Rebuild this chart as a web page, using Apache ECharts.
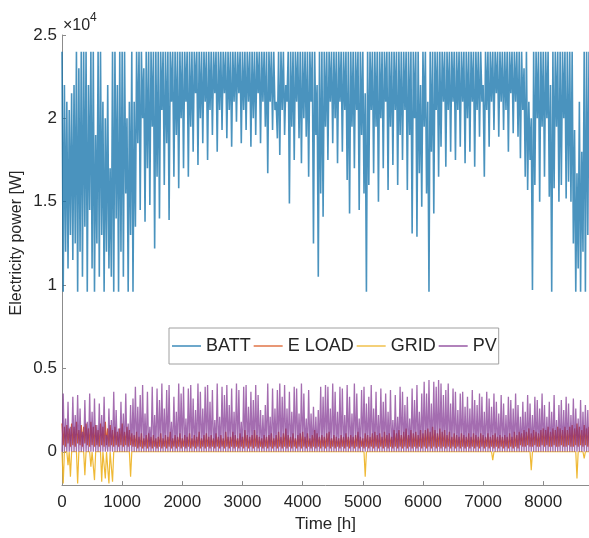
<!DOCTYPE html>
<html>
<head>
<meta charset="utf-8">
<script src="https://cdn.jsdelivr.net/npm/echarts@6/dist/echarts.min.js"></script>
<style>html,body{margin:0;padding:0;background:#fff}#c{width:589px;height:538px}</style>
</head>
<body>
<div id="c"></div>
<script>
// samples every STEP hours (0 .. 8760)
const STEP = 20;
const xTicks = [0, 1000, 2000, 3000, 4000, 5000, 6000, 7000, 8000];
const yTicks = [0, 5000, 10000, 15000, 20000, 25000];
const seriesNames = ['BATT', 'E LOAD', 'GRID', 'PV'];

const BATT = [
 24000,9600, 22000,12000, 21000,11000, 20500,13000, 21500,11500, 22000,12500, 24000,9600, 23000,12000, 24000,10500, 24000,13500,
 24000,9600, 22000,14500, 24000,11000, 24000,9600, 19000,12500, 24000,10500, 24000,13000, 21000,9600, 20000,12000, 22000,11000,
 17000,10500, 24000,9600, 24000,14000, 22000,9600, 24000,12000, 24000,10500, 24000,15500, 20000,9600, 21000,13000, 24000,9600,
 21000,13500, 24000,18500, 24000,14500, 24000,20000, 23000,13800, 24000,17000, 24000,14800, 24000,19500, 24000,12200, 24000,16500,
 24000,14000, 24000,20500, 24000,16000, 24000,18500, 24000,13900, 24000,21000, 24000,16500, 24000,19000, 24000,15800, 24000,20000,
 24000,17000, 24000,21000, 24000,16500, 24000,19500, 24000,18000, 24000,21500, 24000,17200, 24000,20000, 24000,18500, 24000,21000,
 24000,17500, 24000,20500, 24000,19000, 24000,21500, 24000,18000, 24000,20500, 24000,19300, 24000,21500, 24000,18800, 24000,20500,
 24000,18300, 24000,21000, 24000,19800, 24000,21500, 24000,18500, 24000,20500, 24000,19300, 24000,21000, 24000,18300, 24000,20000,
 24000,19000, 24000,21500, 24000,18500, 24000,21000, 24000,19500, 24000,16700, 24000,21000, 24000,19300, 24000,20500, 21000,18800,
 24000,17800, 24000,20500, 24000,19000, 22000,21000, 24000,14900, 24000,19500, 24000,17500, 24000,21000, 24000,18800, 24000,17300,
 24000,20000, 24000,18900, 24000,16500, 24000,21000, 24000,12500, 24000,19000, 22000,10500, 24000,15500, 24000,14100, 24000,19500,
 24000,17500, 24000,21000, 24000,18500, 24000,20000, 24000,17300, 24000,21000, 24000,18000, 24000,20500, 24000,16300, 24000,14300,
 24000,19500, 24000,17000, 24000,20500, 24000,14500, 24000,19000, 24000,15500, 21500,9600, 24000,16000, 24000,20500, 24000,16700,
 24000,19500, 24000,15000, 24000,20000, 24000,17000, 24000,21000, 24000,15700, 24000,19500, 24000,17200, 24000,20500, 24000,16000,
 24000,19000, 24000,17500, 24000,20500, 24000,15700, 24000,19000, 24000,13100, 24000,20000, 24000,12900, 24000,16700, 22000,14700,
 24000,19500, 24000,15500, 21000,9600, 24000,18000, 24000,14300, 24000,20500, 24000,16500, 24000,18300, 24000,21000, 24000,17100,
 24000,20500, 24000,18000, 24000,21000, 24000,17500, 24000,20500, 24000,18300, 24000,21000, 24000,17300, 24000,20000, 24000,18000,
 24000,21000, 24000,17100, 24000,20500, 24000,18900, 24000,21000, 22000,16500, 24000,20500, 24000,18300, 24000,21000, 24000,19300,
 24000,21500, 24000,18900, 24000,21000, 24000,19300, 24000,20500, 24000,18000, 24000,21500, 24000,19100, 24000,21000, 24000,18900,
 24000,17600, 24000,20500, 23000,16500, 24000,15700, 21000,17500, 20000,9700, 24000,16000, 24000,20000, 24000,15000, 24000,19500,
 24000,16500, 24000,20000, 24000,15300, 22000,9600, 24000,15800, 24000,19500, 24000,15000, 24000,16000, 24000,20000, 24000,15200,
 24000,16200, 24000,15000, 24000,12500, 19300,9600, 16700,11000, 21000,9600, 18000,12000, 24000,9600, 24000,13000, 24000
];

const ELOAD = [
 1700,400, 1500,300, 1600,500, 1400,300, 1700,400, 1500,300, 1800,500, 1300,400, 1600,300, 1500,500,
 1700,400, 1400,300, 1800,400, 1500,300, 1600,400, 1300,300, 1700,400, 1500,300, 1800,400, 1400,300,
 1600,400, 1300,300, 1500,400, 1200,300, 1400,400, 1700,300, 1200,400, 1500,300, 1300,400, 1100,300,
 1000,300, 1200,200, 900,300, 1100,200, 800,300, 1000,200, 1100,300, 900,200, 1000,300, 800,200,
 900,300, 1100,200, 800,300, 1000,200, 900,300, 1200,200, 800,300, 1000,200, 900,300, 1100,200,
 800,300, 1000,200, 900,300, 1100,200, 800,300, 1000,200, 900,300, 1200,200, 800,300, 1000,200,
 1100,300, 900,200, 1000,300, 800,200, 1100,300, 900,200, 1000,300, 800,200, 1200,300, 900,200,
 900,300, 1200,200, 1000,300, 800,200, 1100,300, 900,200, 1300,300, 1000,200, 900,300, 1000,200,
 1300,300, 1000,200, 900,300, 800,200, 1000,300, 900,200, 1000,300, 1100,200, 800,300, 1000,200,
 1200,300, 900,200, 1100,300, 1400,200, 1000,300, 900,200, 1100,300, 800,200, 1000,300, 1100,200,
 1200,300, 900,200, 1100,300, 800,200, 1000,300, 1300,200, 1100,300, 900,200, 1000,300, 900,200,
 1100,300, 1200,200, 800,300, 1000,200, 900,300, 800,200, 1000,300, 900,200, 1100,300, 900,200,
 1000,300, 900,200, 1000,300, 1200,200, 900,300, 800,200, 1100,300, 1000,200, 900,300, 1100,200,
 1200,300, 1000,200, 1100,300, 900,200, 1200,300, 1000,200, 1100,300, 900,200, 1300,300, 1100,200,
 1300,300, 1000,200, 1200,300, 1400,200, 1000,300, 1300,200, 1100,300, 1200,200, 1000,300, 1300,200,
 1100,300, 1300,200, 1400,300, 1200,200, 1500,300, 1300,200, 1100,300, 1400,200, 1200,300, 1300,200,
 1000,300, 1200,200, 900,300, 1100,200, 1000,300, 900,200, 1100,300, 1000,200, 900,300, 1100,200,
 900,300, 1100,200, 1000,300, 900,200, 1100,300, 1000,200, 900,300, 1100,200, 900,300, 1000,200,
 1100,300, 900,200, 1000,300, 900,200, 1000,300, 900,200, 1100,300, 900,200, 1200,300, 1000,200,
 1200,400, 1100,300, 1300,300, 1200,400, 1400,300, 1100,300, 1300,400, 1200,300, 1100,300, 1300,400,
 1400,300, 1300,400, 1500,300, 1200,300, 1400,400, 1300,300, 1500,300, 1400,400, 1300,300, 1500,300,
 1300,400, 1500,300, 1600,300, 1400,400, 1700,300, 1500,400, 1300,300, 1600,400, 1400,300, 1500
];

const GRID_HOURS = [
 0, 20, 40, 80, 100, 120, 140, 160, 240, 260, 280, 360, 380, 400,
 460, 480, 500, 520, 540, 560, 640, 660, 680, 700, 720, 740, 760, 780, 800, 820, 840, 860,
 1120, 1140, 1160, 5020, 5040, 5060, 7140, 7160, 7180, 7780, 7800, 7820,
 8540, 8560, 8580, 8660, 8680, 8700, 8760
];
const GRID_VALUES = [
 0, -1900, 0, 0, -800, 0, -1500, 0, 0, -1900, 0, 0, -1400, 0,
 0, -900, 0, 0, -1700, 0, 0, -1800, 0, 0, -1600, 0, 0, -1900, 0, 0, -1800, 0,
 0, -1500, 0, 0, -1500, 0, 0, -500, 0, 0, -1100, 0,
 0, -1600, 0, 0, -400, 0, 0
];

const PV = [
 0,3500, 0,2000, 0,3000, 0,1500, 0,3300, 0,2200, 0,3400, 0,2600, 0,1200, 0,3100,
 0,1800, 0,3500, 0,2400, 0,3200, 0,1600, 0,2900, 0,2200, 0,3300, 0,1000, 0,2600,
 0,1900, 0,3600, 0,2500, 0,1400, 0,3000, 0,2300, 0,3500, 0,1700, 0,2800, 0,3200,
 0,3900, 0,2700, 0,3400, 0,4000, 0,2300, 0,3600, 0,1500, 0,3900, 0,2200, 0,3800,
 0,3100, 0,4100, 0,2600, 0,3700, 0,4000, 0,1800, 0,3300, 0,2400, 0,4100, 0,3500,
 0,3900, 0,2000, 0,3800, 0,4000, 0,3200, 0,2500, 0,4100, 0,3600, 0,2600, 0,3900,
 0,4000, 0,3000, 0,3700, 0,1900, 0,4100, 0,2100, 0,3900, 0,3400, 0,4000, 0,2800,
 0,3800, 0,2400, 0,4100, 0,3700, 0,1800, 0,3900, 0,4000, 0,2700, 0,3600, 0,3100,
 0,4000, 0,3400, 0,2500, 0,2200, 0,2800, 0,4100, 0,2100, 0,3800, 0,2600, 0,3700,
 0,4100, 0,3300, 0,4000, 0,2600, 0,3600, 0,2400, 0,3900, 0,3800, 0,2300, 0,4100,
 0,3500, 0,2000, 0,3700, 0,2300, 0,2700, 0,2100, 0,2500, 0,3900, 0,3300, 0,4000,
 0,3900, 0,2600, 0,4100, 0,3600, 0,2400, 0,3900, 0,3800, 0,2200, 0,4000, 0,3300,
 0,2300, 0,4100, 0,3500, 0,2000, 0,3700, 0,3900, 0,2900, 0,3300, 0,4000, 0,2600,
 0,3600, 0,2200, 0,3800, 0,3000, 0,3500, 0,2400, 0,3700, 0,1900, 0,3400, 0,2100,
 0,3900, 0,3600, 0,2800, 0,3300, 0,2000, 0,3800, 0,3100, 0,4000, 0,2400, 0,3500,
 0,4200, 0,3500, 0,4300, 0,2900, 0,4200, 0,3900, 0,4300, 0,4100, 0,3400, 0,3700,
 0,4100, 0,2900, 0,3800, 0,3600, 0,2500, 0,3500, 0,3600, 0,2700, 0,3300, 0,2600,
 0,3700, 0,3100, 0,2800, 0,3500, 0,3300, 0,2400, 0,3600, 0,3200, 0,2700, 0,3500,
 0,3000, 0,2300, 0,3400, 0,2900, 0,2200, 0,3300, 0,3100, 0,2600, 0,3500, 0,2800,
 0,2100, 0,3000, 0,2400, 0,3400, 0,2900, 0,2200, 0,3300, 0,3100, 0,2600, 0,3500,
 0,2800, 0,2100, 0,3000, 0,2400, 0,3400, 0,1900, 0,2800, 0,3100, 0,2500, 0,3300,
 0,2900, 0,2200, 0,3200, 0,2600, 0,2000, 0,3100, 0,2400, 0,2800, 0,2500, 0
];

const COLORS = ['#0d6fa8', '#D95319', '#EDB120', '#7E2F8E'];
const FONT = "'Liberation Sans', Arial, sans-serif";
const toXY = arr => arr.map((v, i) => [i * STEP, v]);
const gridData = GRID_HOURS.map((h, i) => [h, GRID_VALUES[i]]);

const chart = echarts.init(document.getElementById('c'), null, {renderer: 'canvas'});
const mk = (name, data, color, w, op) => ({
  name, type: 'line', data, showSymbol: false, symbol: 'none',
  sampling: null, animation: false, color,
  lineStyle: {color, width: w, opacity: op}
});

chart.setOption({
  animation: false,
  grid: {left: 62, right: -4, top: 35, bottom: 52},
  legend: {
    data: seriesNames, left: 169, top: 328, orient: 'horizontal',
    icon: 'rect', itemWidth: 29, itemHeight: 1.2, itemGap: 3,
    padding: [9, 2, 9, 3], borderColor: '#a0a0a0', borderWidth: 1,
    backgroundColor: '#fff',
    textStyle: {fontFamily: FONT, fontSize: 18, color: '#262626'}
  },
  xAxis: {
    type: 'value', min: 0, max: 8760,
    axisLine: {onZero: false, lineStyle: {color: '#8c8c8c', width: 1}},
    axisTick: {inside: true, length: 4, customValues: xTicks, lineStyle: {color: '#8c8c8c'}},
    axisLabel: {customValues: xTicks, margin: 9, fontFamily: FONT, fontSize: 17, color: '#262626',
      formatter: v => String(v)},
    splitLine: {show: false},
    name: 'Time [h]', nameLocation: 'middle', nameGap: 30,
    nameTextStyle: {fontFamily: FONT, fontSize: 17, color: '#262626'}
  },
  yAxis: {
    type: 'value', min: -2000, max: 25000,
    axisLine: {show: true, lineStyle: {color: '#8c8c8c', width: 1}},
    axisTick: {show: true, inside: true, length: 4, customValues: yTicks, lineStyle: {color: '#8c8c8c'}},
    axisLabel: {customValues: yTicks, margin: 5, fontFamily: FONT, fontSize: 17, color: '#262626',
      formatter: v => String(v / 10000)},
    splitLine: {show: false}
  },
  graphic: [
    {type: 'text', x: 17, y: 243, rotation: Math.PI / 2,
      style: {text: 'Electricity power [W]', fontFamily: FONT, fontSize: 16, fill: '#262626',
        align: 'center', verticalAlign: 'middle'}},
    {type: 'text', x: 63, y: 26,
      style: {text: '×10', fontFamily: FONT, fontSize: 16, fill: '#262626', align: 'left', verticalAlign: 'middle'}},
    {type: 'text', x: 90, y: 18,
      style: {text: '4', fontFamily: FONT, fontSize: 12, fill: '#262626', align: 'left', verticalAlign: 'middle'}}
  ],
  series: [
    mk(seriesNames[0], toXY(BATT), COLORS[0], 1.6, 0.75),
    mk(seriesNames[1], toXY(ELOAD), COLORS[1], 1.3, 0.9),
    mk(seriesNames[2], gridData, COLORS[2], 1.2, 0.9),
    mk(seriesNames[3], toXY(PV), COLORS[3], 1.3, 0.7)
  ]
});
</script>
</body>
</html>
